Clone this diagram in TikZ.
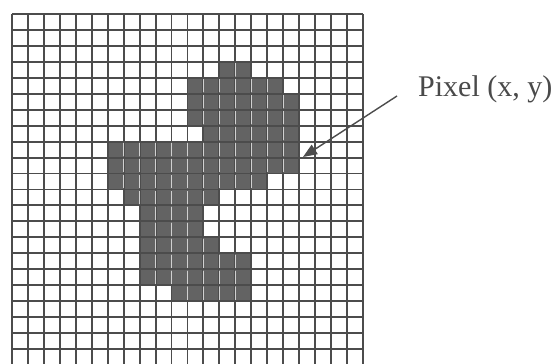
\documentclass[tikz,border=0pt]{standalone}
\usepackage{fontspec}
\setmainfont{Liberation Serif}
\usetikzlibrary{arrows.meta}
\definecolor{gridc}{HTML}{4C4C4C}
\definecolor{cellc}{HTML}{636363}
\definecolor{innerc}{HTML}{D0D0D0}
\definecolor{textc}{HTML}{4A4A4A}
\tikzset{
  gridline/.style={draw=gridc, line width=1.9pt},
  innerline/.style={draw=innerc, line width=1.1pt},
  darkcell/.style={fill=cellc},
  pointer/.style={draw=gridc, line width=1.4pt, -{Triangle[length=14pt,width=11pt]}},
  labeltext/.style={font=\fontsize{30}{34}\selectfont, text=textc, inner sep=0pt}
}
\begin{document}
\begin{tikzpicture}[x=1pt,y=-1pt]
\def\xo{12}\def\yo{14}\def\s{15.95}
\useasboundingbox[fill=white] (0,0) rectangle (560,364);
% dark pixels: row / first col / last col
\def\cells{3/13/14, 4/11/16, 5/11/17, 6/11/17, 7/12/17, 8/6/17, 9/6/17, 10/6/15, 11/7/12, 12/8/11, 13/8/11, 14/8/12, 15/8/14, 16/8/14, 17/10/14}
\foreach \r/\a/\b in \cells {
  \path[darkcell] ({\xo+\a*\s},{\yo+\r*\s}) rectangle ({\xo+(\b+1)*\s},{\yo+(\r+1)*\s});
}
% grid
\foreach \i in {0,...,22} {
  \draw[gridline] ({\xo+\i*\s},\yo) -- ({\xo+\i*\s},{\yo+22*\s});
  \draw[gridline] (\xo,{\yo+\i*\s}) -- ({\xo+22*\s},{\yo+\i*\s});
}
% light lines inside the dark region
\begin{scope}
  \clip \foreach \r/\a/\b in \cells { ({\xo+\a*\s+1.3},{\yo+\r*\s+1.3}) rectangle ({\xo+(\b+1)*\s-1.3},{\yo+(\r+1)*\s-1.3}) };
  \foreach \i in {0,...,22} {
    \draw[innerline] ({\xo+\i*\s},\yo) -- ({\xo+\i*\s},{\yo+22*\s});
    \draw[innerline] (\xo,{\yo+\i*\s}) -- ({\xo+22*\s},{\yo+\i*\s});
  }
\end{scope}
% label and pointer
\node[labeltext, anchor=base west] (lbl) at (418,96) {Pixel (x, y)};
\coordinate (tip) at (303,157);
\draw[pointer] ([xshift=-21pt]lbl.base west) -- (tip);
\end{tikzpicture}
\end{document}
